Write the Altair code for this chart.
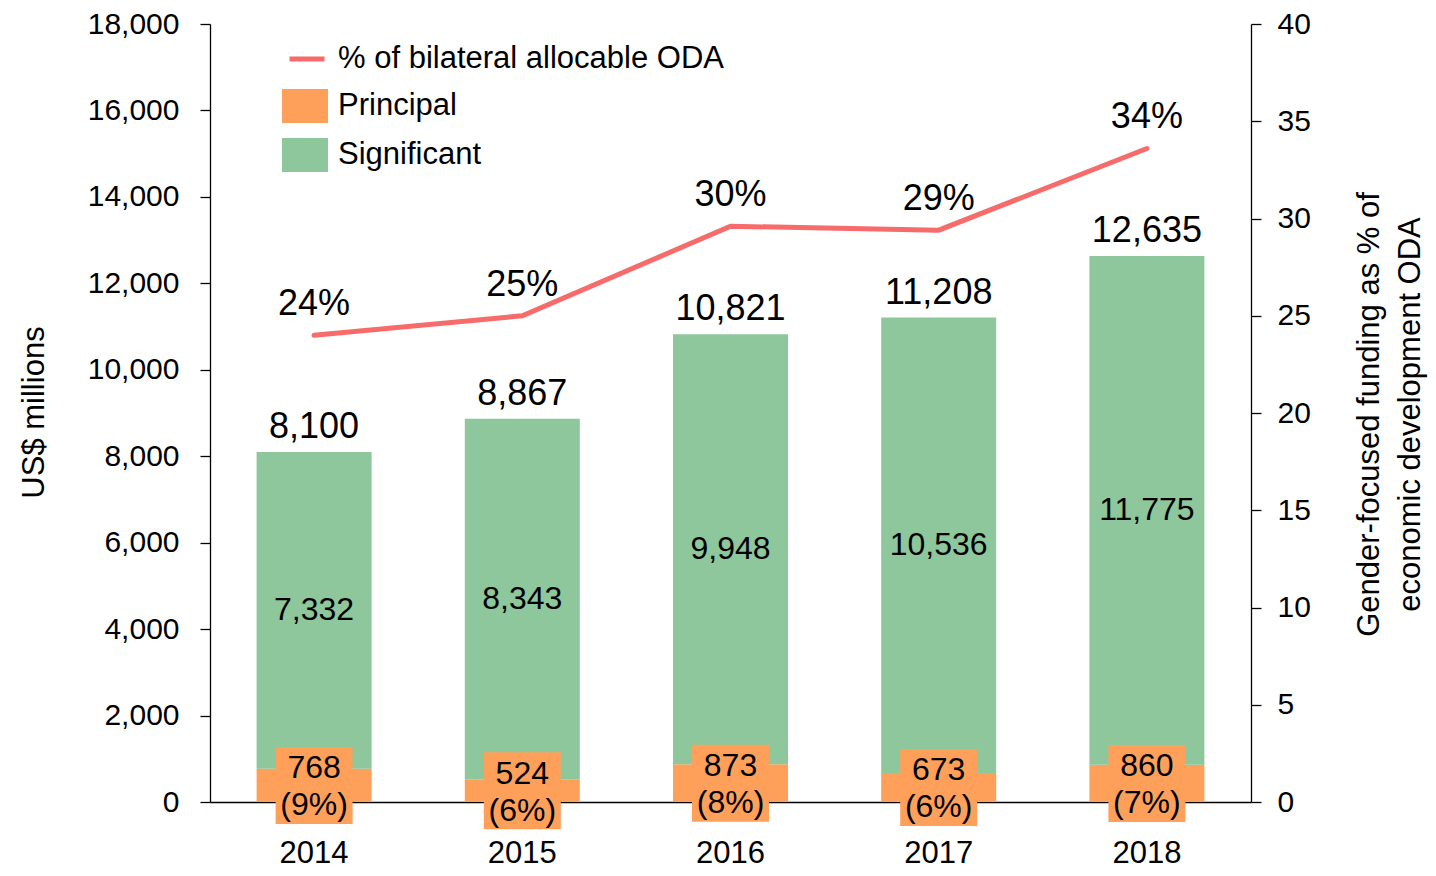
import altair as alt
import pandas as pd

# ---- data ----
years = ["2014", "2015", "2016", "2017", "2018"]
principal = [768, 524, 873, 673, 860]
significant = [7332, 8343, 9948, 10536, 11775]
totals = [8100, 8867, 10821, 11208, 12635]
principal_share = ["9%", "6%", "8%", "6%", "7%"]
oda_pct = [24.0, 25.0, 29.6, 29.4, 33.6]
oda_pct_labels = ["24%", "25%", "30%", "29%", "34%"]

series_names = ["Principal", "Significant"]
line_name = "% of bilateral allocable ODA"
left_ticks = list(range(0, 18001, 2000))
right_ticks = list(range(0, 41, 5))
left_title = "US$ millions"
right_title = ["Gender-focused funding as % of", "economic development ODA"]

GREEN = "#8DC79B"
ORANGE = "#FFA05A"
RED = "#F76B6B"
FONT = "Liberation Sans"

# ---- tables ----
bar_rows = []
for i, y in enumerate(years):
    bar_rows.append({"year": y, "series": "Principal", "value": principal[i], "ord": 0})
    bar_rows.append({"year": y, "series": "Significant", "value": significant[i], "ord": 1})
bar_df = pd.DataFrame(bar_rows)

year_df = pd.DataFrame({
    "year": years,
    "principal": principal,
    "significant": significant,
    "total": totals,
    "pct": oda_pct,
    "pct_label": oda_pct_labels,
    "series": [line_name] * len(years),
})
year_df["prin_mid"] = year_df["principal"] / 2
year_df["sig_mid"] = (year_df["principal"] + year_df["total"]) / 2
year_df["prin_label"] = [f"{p:,}\n({s})" for p, s in zip(principal, principal_share)]
year_df["sig_label"] = [f"{v:,}" for v in significant]
year_df["total_label"] = [f"{v:,}" for v in totals]

# ---- shared encodings ----
x_axis = alt.Axis(title=None, ticks=False, labelAngle=0, labelFontSize=31, labelPadding=36,
                  labelColor="black", domainColor="black", domainWidth=1.3, grid=False)
x_scale = alt.Scale(domain=years, paddingInner=0, paddingOuter=0)

def X():
    return alt.X("year:N", scale=x_scale, axis=x_axis)

left_scale = alt.Scale(domain=[0, 18000], nice=False)
left_axis = alt.Axis(title=left_title, values=left_ticks, format=",.0f", tickSize=10, labelPadding=21,
                     labelFontSize=30, labelColor="black", tickColor="black", domainColor="black",
                     tickWidth=1.3, domainWidth=1.3, grid=False,
                     titleFont=FONT, titleFontSize=31, titleFontWeight="normal", titleColor="black",
                     titleAngle=270, titleAlign="center", titleBaseline="alphabetic",
                     titleX=-167, titleY=388)

right_scale = alt.Scale(domain=[0, 40], nice=False)
right_axis = alt.Axis(title=right_title, orient="right", values=right_ticks, tickSize=10, labelPadding=16,
                      labelFontSize=30, labelColor="black", tickColor="black", domainColor="black",
                      tickWidth=1.3, domainWidth=1.3, grid=False,
                      titleFont=FONT, titleFontSize=31, titleFontWeight="normal", titleColor="black",
                      titleAngle=270, titleAlign="center", titleBaseline="alphabetic",
                      titleLineHeight=41, titleX=127, titleY=390)

def YL(field):
    return alt.Y(field, scale=left_scale, axis=left_axis)

def YR(field):
    return alt.Y(field, scale=right_scale, axis=right_axis)

# ---- left (US$) layers ----
bars = alt.Chart(bar_df).mark_bar(size=115).encode(
    x=X(),
    y=alt.Y("value:Q", stack="zero", scale=left_scale, axis=left_axis),
    fill=alt.Fill("series:N", scale=alt.Scale(domain=series_names, range=[ORANGE, GREEN]),
                  legend=alt.Legend(orient="none", legendX=72, legendY=59, title=None,
                                    symbolType="M-1,-0.74H1V0.74H-1Z", symbolSize=2116,
                                    symbolStrokeWidth=0, symbolOpacity=1, labelFontSize=31,
                                    labelFont=FONT, labelColor="black", labelOffset=10,
                                    rowPadding=8, padding=0, labelLimit=700)),
    order=alt.Order("ord:Q"),
)

boxes = alt.Chart(year_df).mark_square(size=77 * 77, color=ORANGE, opacity=1).encode(
    x=X(), y=YL("prin_mid:Q"))

prin_text = alt.Chart(year_df).mark_text(fontSize=32, lineBreak="\n", lineHeight=37,
                                         color="black", baseline="middle", dy=-17).encode(
    x=X(), y=YL("prin_mid:Q"), text="prin_label:N")

sig_text = alt.Chart(year_df).mark_text(fontSize=32, color="black", baseline="middle").encode(
    x=X(), y=YL("sig_mid:Q"), text="sig_label:N")

total_text = alt.Chart(year_df).mark_text(fontSize=36, color="black", baseline="middle", dy=-25).encode(
    x=X(), y=YL("total:Q"), text="total_label:N")

left = alt.layer(bars, boxes, prin_text, sig_text, total_text)

# ---- right (%) layers ----
line = alt.Chart(year_df).mark_line(strokeWidth=5, strokeCap="round").encode(
    x=X(),
    y=YR("pct:Q"),
    stroke=alt.Stroke("series:N", scale=alt.Scale(domain=[line_name], range=[RED]),
                      legend=alt.Legend(orient="none", legendX=77, legendY=15, title=None,
                                        symbolType="stroke", symbolSize=1225, symbolStrokeWidth=5,
                                        labelFontSize=31, labelFont=FONT, labelColor="black",
                                        labelOffset=11, padding=0, labelLimit=700)),
)

pct_text = alt.Chart(year_df).mark_text(fontSize=36, color="black", baseline="middle", dy=-31).encode(
    x=X(), y=YR("pct:Q"), text="pct_label:N")

right = alt.layer(line, pct_text)

chart = alt.layer(left, right).resolve_scale(y="independent").properties(
    width=1041, height=778,
    autosize=alt.AutoSizeParams(type="none"),
    padding={"left": 202, "top": 16, "right": 177, "bottom": 66},
).configure(font=FONT).configure_view(stroke=None)

chart.save("out.html", embed_options={"renderer": "svg", "actions": False})
